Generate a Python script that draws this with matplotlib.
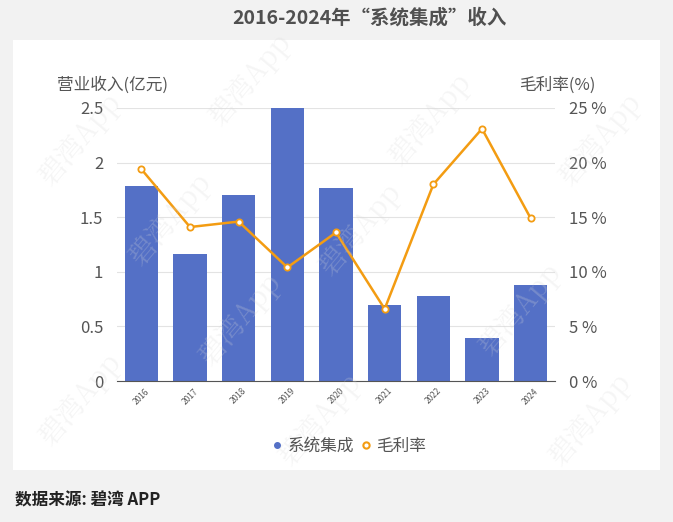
import matplotlib
matplotlib.use('Agg')
import matplotlib.pyplot as plt
from matplotlib.lines import Line2D

plt.rcParams['font.family'] = ['Noto Sans CJK SC', 'DejaVu Sans']

years = ['2016', '2017', '2018', '2019', '2020', '2021', '2022', '2023', '2024']
revenue = [1.79, 1.16, 1.70, 2.50, 1.77, 0.70, 0.78, 0.39, 0.88]   # 亿元
margin = [19.4, 14.1, 14.6, 10.4, 13.6, 6.6, 18.0, 23.1, 14.9]     # %

BAR_C = '#5470c6'
LINE_C = '#f39c12'
TXT_C = '#555555'

fig = plt.figure(figsize=(6.73, 5.22), dpi=100)
fig.patch.set_facecolor('#f2f2f2')

# white panel
panel = fig.add_axes([13 / 673, 1 - 470 / 522, 647 / 673, 430 / 522])
panel.set_facecolor('white')
panel.set_xticks([])
panel.set_yticks([])
for s in panel.spines.values():
    s.set_visible(False)

ax = fig.add_axes([117 / 673, 1 - 381 / 522, 438 / 673, 273 / 522])
ax.set_facecolor('none')
x = range(len(years))
ax.bar(x, revenue, width=0.68, color=BAR_C, zorder=2)
ax.set_xlim(-0.5, len(years) - 0.5)
ax.set_ylim(0, 2.5)
ax.set_yticks([0, 0.5, 1, 1.5, 2, 2.5])
ax.set_yticklabels(['0', '0.5', '1', '1.5', '2', '2.5'])
ax.grid(axis='y', color='#e3e3e3', linewidth=0.8, zorder=0)
ax.set_xticks(list(x))
ax.set_xticklabels(years, rotation=45, fontsize=6, color=TXT_C)
ax.tick_params(axis='y', length=0, labelsize=12, labelcolor=TXT_C, pad=10)
ax.tick_params(axis='x', length=0, pad=4)
for k in ['top', 'right', 'left']:
    ax.spines[k].set_visible(False)
ax.spines['bottom'].set_color('#555555')

ax2 = ax.twinx()
ax2.plot(x, margin, color=LINE_C, linewidth=1.8, marker='o', markersize=4.5,
         markerfacecolor='white', markeredgecolor=LINE_C, markeredgewidth=1.3, zorder=3)
ax2.set_ylim(0, 25)
ax2.set_yticks([0, 5, 10, 15, 20, 25])
ax2.set_yticklabels(['0 %', '5 %', '10 %', '15 %', '20 %', '25 %'])
ax2.tick_params(axis='y', length=0, labelsize=12, labelcolor=TXT_C, pad=10)
for s in ax2.spines.values():
    s.set_visible(False)

fig.text(57 / 673, 1 - 85 / 522, '营业收入(亿元)', fontsize=12, color=TXT_C, va='center')
fig.text(595 / 673, 1 - 85 / 522, '毛利率(%)', fontsize=12, color=TXT_C, va='center', ha='right')

fig.text(369 / 673, 1 - 18 / 522, '2016-2024年“系统集成”收入', fontsize=14,
         fontweight='bold', color='#505050', ha='center', va='center')
fig.text(15 / 673, 1 - 500 / 522, '数据来源: 碧湾 APP', fontsize=12,
         fontweight='bold', color='#222222', va='center')

handles = [
    Line2D([], [], linestyle='none', marker='o', markersize=4, color=BAR_C),
    Line2D([], [], linestyle='none', marker='o', markersize=4.5, markerfacecolor='white',
           markeredgecolor=LINE_C, markeredgewidth=1.5),
]
fig.legend(handles, ['系统集成', '毛利率'], loc='center', bbox_to_anchor=(349 / 673, 1 - 446 / 522),
           ncol=2, frameon=False, fontsize=12, handlelength=0.6, handletextpad=0.3,
           columnspacing=0.4, labelcolor=TXT_C)

# faint watermarks
for wx, wy in [(80, 140), (250, 80), (430, 120), (170, 220), (360, 230),
               (600, 140), (240, 320), (520, 310), (80, 400), (320, 420), (590, 420)]:
    fig.text(wx / 673, 1 - wy / 522, '碧湾App', fontsize=20, color='#d8d8d8', alpha=0.25,
             rotation=50, ha='center', va='center', family=['Noto Serif CJK SC', 'Noto Sans CJK SC'])

fig.savefig('out.png', dpi=100, facecolor=fig.get_facecolor())
